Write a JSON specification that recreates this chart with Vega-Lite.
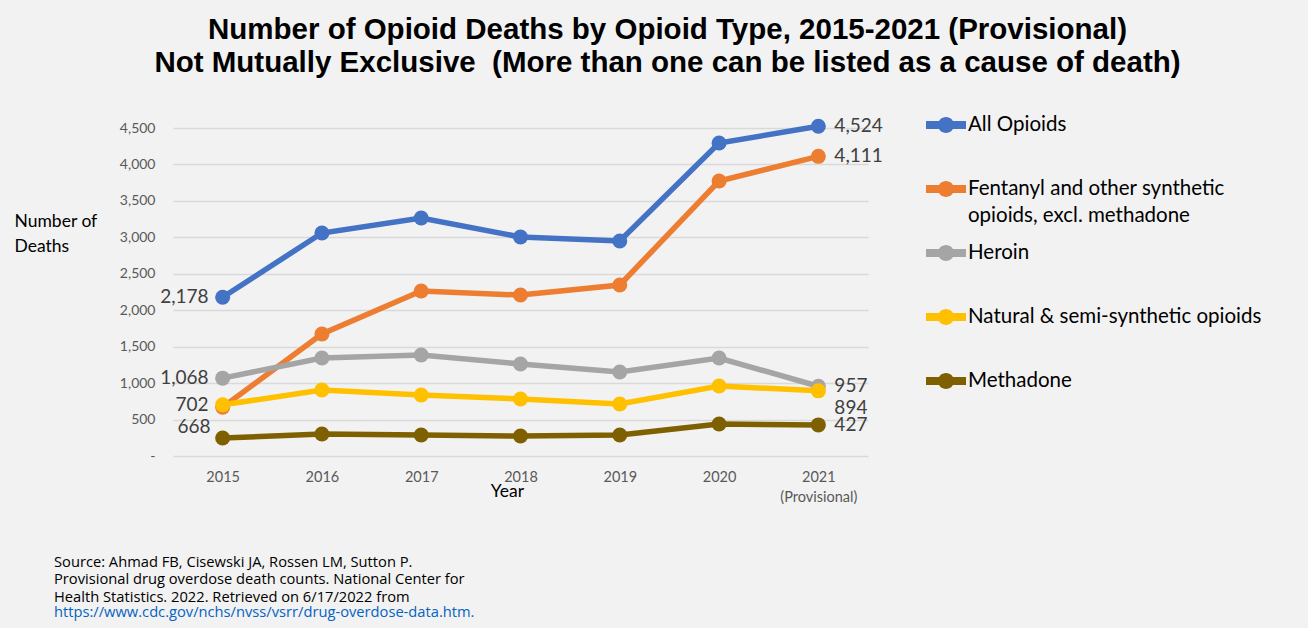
{
  "$schema": "https://vega.github.io/schema/vega-lite/v6.json",
  "autosize": {"type": "none"},
  "padding": {"left": 173, "top": 128, "right": 440, "bottom": 500},
  "background": "#f2f2f2",
  "title": {
    "text": ["Source: Ahmad FB, Cisewski JA, Rossen LM, Sutton P.", "Provisional drug overdose death counts. National Center for", "Health Statistics. 2022. Retrieved on 6/17/2022 from"],
    "subtitle": "https://www.cdc.gov/nchs/nvss/vsrr/drug-overdose-data.htm.",
    "orient": "bottom",
    "anchor": "start",
    "frame": "group",
    "dx": -119,
    "offset": 51,
    "font": "Open Sans",
    "fontSize": 14.7,
    "fontWeight": "normal",
    "color": "#000000",
    "lineHeight": 17.6,
    "subtitleFont": "Open Sans",
    "subtitleFontSize": 14.7,
    "subtitleColor": "#0563C1",
    "subtitleLineHeight": 17.6,
    "subtitlePadding": 1
  },
  "data": {"values": [
    {"year": "2015", "series": "All Opioids", "value": 2178},
    {"year": "2016", "series": "All Opioids", "value": 3059},
    {"year": "2017", "series": "All Opioids", "value": 3265},
    {"year": "2018", "series": "All Opioids", "value": 3004},
    {"year": "2019", "series": "All Opioids", "value": 2949},
    {"year": "2020", "series": "All Opioids", "value": 4294},
    {"year": "2021", "series": "All Opioids", "value": 4524},
    {"year": "2015", "series": "Fentanyl and other synthetic opioids, excl. methadone", "value": 668},
    {"year": "2016", "series": "Fentanyl and other synthetic opioids, excl. methadone", "value": 1674},
    {"year": "2017", "series": "Fentanyl and other synthetic opioids, excl. methadone", "value": 2263},
    {"year": "2018", "series": "Fentanyl and other synthetic opioids, excl. methadone", "value": 2208},
    {"year": "2019", "series": "Fentanyl and other synthetic opioids, excl. methadone", "value": 2346},
    {"year": "2020", "series": "Fentanyl and other synthetic opioids, excl. methadone", "value": 3772},
    {"year": "2021", "series": "Fentanyl and other synthetic opioids, excl. methadone", "value": 4111},
    {"year": "2015", "series": "Heroin", "value": 1068},
    {"year": "2016", "series": "Heroin", "value": 1344},
    {"year": "2017", "series": "Heroin", "value": 1385},
    {"year": "2018", "series": "Heroin", "value": 1262},
    {"year": "2019", "series": "Heroin", "value": 1152},
    {"year": "2020", "series": "Heroin", "value": 1344},
    {"year": "2021", "series": "Heroin", "value": 957},
    {"year": "2015", "series": "Natural & semi-synthetic opioids", "value": 702},
    {"year": "2016", "series": "Natural & semi-synthetic opioids", "value": 905},
    {"year": "2017", "series": "Natural & semi-synthetic opioids", "value": 837},
    {"year": "2018", "series": "Natural & semi-synthetic opioids", "value": 782},
    {"year": "2019", "series": "Natural & semi-synthetic opioids", "value": 713},
    {"year": "2020", "series": "Natural & semi-synthetic opioids", "value": 960},
    {"year": "2021", "series": "Natural & semi-synthetic opioids", "value": 894},
    {"year": "2015", "series": "Methadone", "value": 247},
    {"year": "2016", "series": "Methadone", "value": 302},
    {"year": "2017", "series": "Methadone", "value": 288},
    {"year": "2018", "series": "Methadone", "value": 274},
    {"year": "2019", "series": "Methadone", "value": 288},
    {"year": "2020", "series": "Methadone", "value": 439},
    {"year": "2021", "series": "Methadone", "value": 427}
  ]},
  "vconcat": [
    {
      "width": 695,
      "height": 328,
      "title": {
        "text": ["Number of Opioid Deaths by Opioid Type, 2015-2021 (Provisional)", "Not Mutually Exclusive\u00a0 (More than one can be listed as a cause of death)"],
        "anchor": "middle",
        "frame": "group",
        "dx": 147,
        "offset": 37,
        "font": "Liberation Sans",
        "fontSize": 29.5,
        "fontWeight": "bold",
        "color": "#000000",
        "lineHeight": 33
      },
      "encoding": {
        "x": {
          "field": "year", "type": "ordinal",
          "scale": {"type": "point", "padding": 0.5},
          "axis": {
            "title": "Year",
            "titleFont": "Lato", "titleFontSize": 17.5, "titleFontWeight": "normal", "titleColor": "#000000",
            "titleX": 334, "titleY": 35, "titleBaseline": "middle", "titleAlign": "center", "titleAnchor": null,
            "labelExpr": "datum.value == '2021' ? ['2021', '(Provisional)'] : datum.value",
            "labelFont": "Lato", "labelFontSize": 14.5, "labelColor": "#595959", "labelLineHeight": 20,
            "labelPadding": 14, "labelAngle": 0,
            "domain": false, "ticks": false, "grid": false
          }
        },
        "y": {
          "field": "value", "type": "quantitative",
          "scale": {"domain": [0, 4500], "nice": false},
          "axis": {
            "title": ["Number of", "Deaths"],
            "titleAngle": 0, "titleAlign": "left", "titleBaseline": "top",
            "titleX": -159, "titleY": 84,
            "titleFont": "Lato", "titleFontSize": 17.5, "titleFontWeight": "normal", "titleColor": "#000000", "titleLineHeight": 25,
            "values": [0, 500, 1000, 1500, 2000, 2500, 3000, 3500, 4000, 4500],
            "labelExpr": "datum.value == 0 ? '-' : format(datum.value, ',')",
            "labelFont": "Lato", "labelFontSize": 14, "labelColor": "#595959", "labelPadding": 18,
            "domain": false, "ticks": false,
            "grid": true, "gridColor": "#d9d9d9", "gridWidth": 1.5
          }
        },
        "color": {
          "field": "series", "type": "nominal",
          "scale": {
            "domain": ["All Opioids", "Fentanyl and other synthetic opioids, excl. methadone", "Heroin", "Natural & semi-synthetic opioids", "Methadone"],
            "range": ["#4472C4", "#ED7D31", "#A5A5A5", "#FFC000", "#7F6000"]
          },
          "legend": {
            "title": null,
            "orient": "none",
            "legendX": 753,
            "legendY": -23,
            "symbolType": "M -1 -0.2 L 1 -0.2 L 1 0.2 L -1 0.2 Z M 0.4 0 A 0.4 0.4 0 1 1 -0.4 0 A 0.4 0.4 0 1 1 0.4 0 Z",
            "symbolSize": 1600,
            "symbolStrokeWidth": 0,
            "symbolOpacity": 1,
            "labelFont": "Lato", "labelFontSize": 20.5, "labelColor": "#000000",
            "labelOffset": 2, "labelLimit": 500, "labelBaseline": "middle",
            "labelExpr": "datum.value == 'Fentanyl and other synthetic opioids, excl. methadone' ? ['Fentanyl and other synthetic', 'opioids, excl. methadone'] : [datum.value, '']",
            "rowPadding": 7,
            "padding": 0
          }
        }
      },
      "layer": [
        {"mark": {"type": "line", "strokeWidth": 5.5}},
        {"mark": {"type": "point", "shape": "circle", "filled": true, "opacity": 1, "size": 225}},
        {
          "transform": [{"filter": "datum.year == '2015' && datum.series != 'Methadone' && datum.series != 'Fentanyl and other synthetic opioids, excl. methadone'"}],
          "mark": {"type": "text", "align": "right", "baseline": "middle", "dx": -14, "font": "Lato", "fontSize": 19},
          "encoding": {"text": {"field": "value", "type": "quantitative", "format": ","}, "color": {"value": "#404040"}}
        },
        {
          "transform": [{"filter": "datum.year == '2015' && datum.series == 'Fentanyl and other synthetic opioids, excl. methadone'"}],
          "mark": {"type": "text", "align": "right", "baseline": "middle", "dx": -12, "dy": 20, "font": "Lato", "fontSize": 19},
          "encoding": {"text": {"field": "value", "type": "quantitative", "format": ","}, "color": {"value": "#404040"}}
        },
        {
          "transform": [{"filter": "datum.year == '2021' && datum.series != 'Natural & semi-synthetic opioids'"}],
          "mark": {"type": "text", "align": "left", "baseline": "middle", "dx": 16, "font": "Lato", "fontSize": 19},
          "encoding": {"text": {"field": "value", "type": "quantitative", "format": ","}, "color": {"value": "#404040"}}
        },
        {
          "transform": [{"filter": "datum.year == '2021' && datum.series == 'Natural & semi-synthetic opioids'"}],
          "mark": {"type": "text", "align": "left", "baseline": "middle", "dx": 16, "dy": 17, "font": "Lato", "fontSize": 19},
          "encoding": {"text": {"field": "value", "type": "quantitative", "format": ","}, "color": {"value": "#404040"}}
        }
      ]
    }
  ],
  "config": {
    "view": {"stroke": null},
    "style": {"guide-label": {"lineHeight": 26.5}}
  }
}
